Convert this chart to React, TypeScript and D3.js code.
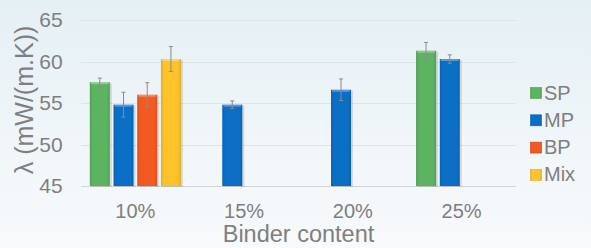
import { useRef, useEffect } from 'react';
import * as d3 from 'd3';

const categories = ['10%', '15%', '20%', '25%'];
const series = ['SP', 'MP', 'BP', 'Mix'];
const colors = ['#5cb461', '#0b6fc6', '#f25a22', '#fec32b'];
// values per series, null = no bar
const spValues = [57.5, null, null, 61.3];
const mpValues = [54.8, 54.8, 56.6, 60.3];
const bpValues = [56.0, null, null, null];
const mixValues = [60.3, null, null, null];
const spErr = [0.5, 0, 0, 1.0];
const mpErr = [1.5, 0.45, 1.3, 0.5];
const bpErr = [1.45, 0, 0, 0];
const mixErr = [1.5, 0, 0, 0];
const yTicks = [45, 50, 55, 60, 65];

const W = 591;
const H = 248;

export default function App() {
  const svgRef = useRef<SVGSVGElement>(null);

  useEffect(() => {
    if (!svgRef.current) return;
    const svg = d3.select(svgRef.current);
    svg.selectAll('*').remove();

    const font = 'Liberation Sans, Arial, sans-serif';
    const textColor = '#7f7f7f';
    const left = 81;
    const right = 516;
    const top = 20;
    const bottom = 186;

    const defs = svg.append('defs');
    const bg = defs.append('linearGradient').attr('id', 'bg').attr('x1', 0).attr('y1', 0).attr('x2', 0).attr('y2', 1);
    bg.append('stop').attr('offset', '0%').attr('stop-color', '#e5f0f5');
    bg.append('stop').attr('offset', '100%').attr('stop-color', '#f8fafc');

    colors.forEach((c, i) => {
      const g = defs.append('linearGradient').attr('id', `bar${i}`).attr('x1', 0).attr('y1', 0).attr('x2', 1).attr('y2', 0);
      const base = d3.color(c)!;
      g.append('stop').attr('offset', '0%').attr('stop-color', base.darker(0.35).formatHex());
      g.append('stop').attr('offset', '15%').attr('stop-color', c);
      g.append('stop').attr('offset', '85%').attr('stop-color', c);
      g.append('stop').attr('offset', '100%').attr('stop-color', base.darker(0.35).formatHex());
    });

    svg.append('rect').attr('width', W).attr('height', H).attr('fill', 'url(#bg)');

    const x0 = d3.scaleBand().domain(categories).range([left, right]).paddingInner(0).paddingOuter(0);
    const x1 = d3.scaleBand().domain(series).range([0, x0.bandwidth()]).paddingInner(0.156).paddingOuter(0.372);
    const y = d3.scaleLinear().domain([45, 65]).range([bottom, top]);

    // grid
    svg.append('g')
      .selectAll('line')
      .data(yTicks)
      .join('line')
      .attr('x1', left)
      .attr('x2', right)
      .attr('y1', (d) => Math.round(y(d)) + 0.5)
      .attr('y2', (d) => Math.round(y(d)) + 0.5)
      .attr('stroke', (d) => (d === 45 ? '#d3d6d9' : '#dfe3e6'))
      .attr('stroke-width', 1);

    // y tick labels
    svg.append('g')
      .selectAll('text')
      .data(yTicks)
      .join('text')
      .attr('x', 62.7)
      .attr('y', (d) => y(d) + 7)
      .attr('text-anchor', 'end')
      .attr('font-family', font)
      .attr('font-size', 21)
      .attr('fill', textColor)
      .text((d) => d);

    // x tick labels
    svg.append('g')
      .selectAll('text')
      .data(categories)
      .join('text')
      .attr('x', (d) => x0(d)! + x0.bandwidth() / 2)
      .attr('y', 217.7)
      .attr('text-anchor', 'middle')
      .attr('font-family', font)
      .attr('font-size', 20)
      .attr('fill', textColor)
      .text((d) => d);

    const allValues = [spValues, mpValues, bpValues, mixValues];
    const allErr = [spErr, mpErr, bpErr, mixErr];
    const bars: { cat: string; s: string; si: number; v: number; e: number }[] = [];
    categories.forEach((cat, ci) => {
      series.forEach((s, si) => {
        const v = allValues[si][ci];
        if (v != null) bars.push({ cat, s, si, v, e: allErr[si][ci] });
      });
    });

    const gBars = svg.append('g');
    bars.forEach((b) => {
      const bx = x0(b.cat)! + x1(b.s)!;
      const bw = x1.bandwidth();
      const by = y(b.v);
      const bh = bottom - by;
      // shadow
      gBars.append('rect')
        .attr('x', bx + 1)
        .attr('y', by + 1)
        .attr('width', bw + 1)
        .attr('height', bh)
        .attr('fill', '#000')
        .attr('opacity', 0.12);
      gBars.append('rect')
        .attr('x', bx)
        .attr('y', by)
        .attr('width', bw)
        .attr('height', bh)
        .attr('fill', `url(#bar${b.si})`);
      // top highlight
      gBars.append('rect')
        .attr('x', bx + 1)
        .attr('y', by)
        .attr('width', bw - 2)
        .attr('height', 2)
        .attr('fill', '#fff')
        .attr('opacity', 0.3);
      // error bar
      if (b.e > 0) {
        const cx = bx + bw / 2;
        const eb = gBars.append('g').attr('stroke', '#8c8c8c').attr('stroke-width', 1);
        eb.append('line').attr('x1', cx).attr('x2', cx).attr('y1', y(b.v + b.e)).attr('y2', y(b.v - b.e));
        eb.append('line').attr('x1', cx - 2).attr('x2', cx + 2).attr('y1', y(b.v + b.e)).attr('y2', y(b.v + b.e));
        eb.append('line').attr('x1', cx - 2).attr('x2', cx + 2).attr('y1', y(b.v - b.e)).attr('y2', y(b.v - b.e));
      }
    });

    // axis titles
    svg.append('text')
      .attr('x', (left + right) / 2)
      .attr('y', 242)
      .attr('text-anchor', 'middle')
      .attr('font-family', font)
      .attr('font-size', 23.5)
      .attr('fill', textColor)
      .text('Binder content');

    svg.append('text')
      .attr('transform', `translate(33, 100) rotate(-90)`)
      .attr('text-anchor', 'middle')
      .attr('font-family', font)
      .attr('font-size', 25)
      .attr('fill', textColor)
      .text('λ (mW/(m.K))');

    // legend
    const legend = svg.append('g').attr('transform', 'translate(530, 87)');
    series.forEach((s, i) => {
      const g = legend.append('g').attr('transform', `translate(0, ${i * 27.3})`);
      g.append('rect').attr('x', 0.5).attr('y', 0.5).attr('width', 11).attr('height', 11)
        .attr('fill', `url(#bar${i})`)
        .attr('stroke', d3.color(colors[i])!.darker(0.4).formatHex())
        .attr('stroke-width', 0.6);
      g.append('text')
        .attr('x', 14)
        .attr('y', 12.5)
        .attr('font-family', font)
        .attr('font-size', 20)
        .attr('fill', textColor)
        .text(s);
    });
  }, []);

  return (
    <svg
      ref={svgRef}
      width={W}
      height={H}
      style={{ position: 'absolute', left: 0, top: 0 }}
    />
  );
}
